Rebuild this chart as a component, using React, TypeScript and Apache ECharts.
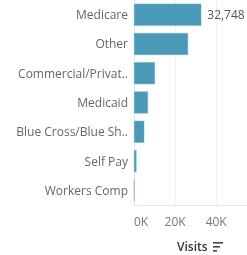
import React, { useEffect, useRef } from "react";
import * as echarts from "echarts";

const categories = ["Medicare", "Other", "Commercial/Privat..", "Medicaid", "Blue Cross/Blue Sh..", "Self Pay", "Workers Comp"];
const visits = [32748, 26300, 10200, 6800, 5000, 1200, 250];
const tickValues = [0, 20000, 40000];

export default function App() {
  const ref = useRef<HTMLDivElement>(null);
  useEffect(() => {
    if (!ref.current) return;
    const chart = echarts.init(ref.current, null, { renderer: "svg" });
    const font = "Open Sans";
    chart.setOption({
      animation: false,
      grid: { left: 134, top: 0, right: 0, height: 205, containLabel: false },
      xAxis: {
        type: "value",
        min: 0,
        max: 55000,
        interval: 20000,
        axisLine: { show: true, lineStyle: { color: "#e6e6e6" } },
        axisTick: { show: false },
        splitLine: { show: true, lineStyle: { color: "#f0f0f0", width: 1 } },
        axisLabel: {
          color: "#777",
          fontFamily: font,
          fontSize: 12,
          margin: 10,
          alignMinLabel: "left",
          showMaxLabel: false,
          formatter: (v: number) => (tickValues.includes(v) ? v / 1000 + "K" : ""),
        },
      },
      yAxis: {
        type: "category",
        data: categories,
        inverse: true,
        axisLine: { show: true, lineStyle: { color: "#e6e6e6" } },
        axisTick: { show: false },
        splitLine: { show: false },
        axisLabel: { color: "#666", fontFamily: font, fontSize: 12, margin: 6 },
      },
      series: [
        {
          type: "bar",
          data: visits,
          barWidth: 22,
          itemStyle: { color: "#4a9ab7", borderColor: "#6aafc7", borderWidth: 0.5 },
          label: {
            show: true,
            position: "right",
            distance: 6,
            color: "#555",
            fontFamily: font,
            fontSize: 12,
            formatter: (p: any) => (p.dataIndex === 0 ? p.value.toLocaleString("en-US") : ""),
          },
        },
      ],
      graphic: [
        {
          type: "text",
          left: 177,
          top: 240,
          style: { text: "Visits", fill: "#333", font: `600 12px "${font}"` },
        },
        { type: "rect", shape: { x: 213, y: 242, width: 10, height: 1.6 }, style: { fill: "#444" } },
        { type: "rect", shape: { x: 213, y: 246, width: 7, height: 1.6 }, style: { fill: "#444" } },
        { type: "rect", shape: { x: 213, y: 250, width: 4, height: 1.6 }, style: { fill: "#444" } },
      ],
    });
    return () => chart.dispose();
  }, []);
  return <div ref={ref} style={{ position: "fixed", left: 0, top: 0, width: 247, height: 255 }} />;
}
